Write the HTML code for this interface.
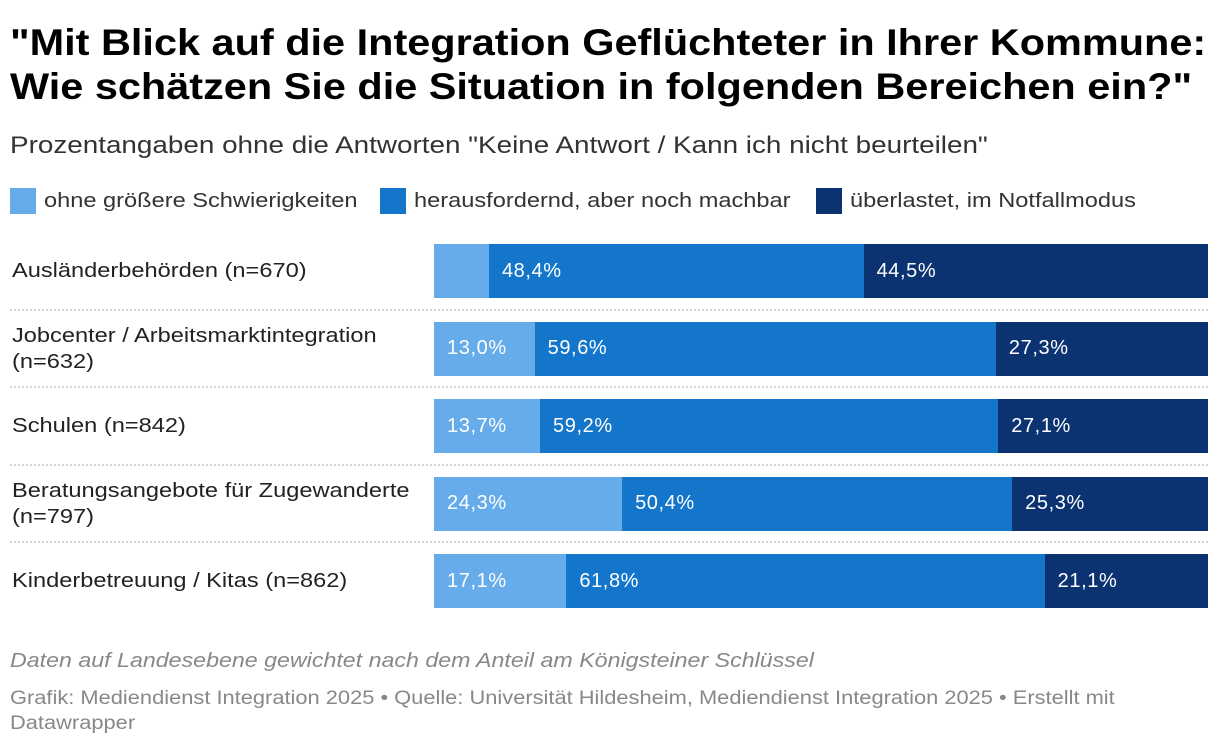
<!DOCTYPE html>
<html><head><meta charset="utf-8"><style>
body{margin:0;width:1220px;height:750px;background:#fff;font-family:"Liberation Sans",sans-serif;color:#1d1d1d;position:relative;overflow:hidden}
.abs{position:absolute}
h1{position:absolute;left:10px;top:21px;margin:0;font-size:37px;line-height:44px;font-weight:bold;color:#000;transform:scaleX(1.12);transform-origin:0 0;white-space:nowrap}
.sub{left:10px;top:132px;font-size:24px;color:#333;transform:scaleX(1.16);transform-origin:0 0;white-space:nowrap}
.leg{top:188px;font-size:20px;color:#333;display:flex;align-items:center}
.leg span{display:inline-block;transform:scaleX(1.18);transform-origin:0 50%;white-space:nowrap}
.sw{width:26px;height:26px;margin-right:8px}
.lab{left:12px;font-size:20px;line-height:26px;color:#222;transform:scaleX(1.18);transform-origin:0 0;white-space:nowrap}
.sep{left:10px;width:1198px;border-top:2px dotted #d4d4d4;height:0}
.seg{position:absolute;color:#fff;font-size:20px;display:flex;align-items:center;box-sizing:border-box;padding-left:13px;letter-spacing:0.6px}
.foot{left:10px;font-size:19px;color:#888;transform:scaleX(1.15);transform-origin:0 0;white-space:nowrap}
</style></head><body>
<h1>"Mit Blick auf die Integration Geflüchteter in Ihrer Kommune:<br>Wie schätzen Sie die Situation in folgenden Bereichen ein?"</h1>
<div class="abs sub">Prozentangaben ohne die Antworten "Keine Antwort / Kann ich nicht beurteilen"</div>
<div class="abs leg" style="left:10px"><div class="sw" style="background:#66aceb"></div><span>ohne größere Schwierigkeiten</span></div>
<div class="abs leg" style="left:380px"><div class="sw" style="background:#1476cb"></div><span>herausfordernd, aber noch machbar</span></div>
<div class="abs leg" style="left:816px"><div class="sw" style="background:#0b3372"></div><span>überlastet, im Notfallmodus</span></div>
<div id="chart"></div>
<div class="abs foot" style="top:650px;font-style:italic;font-size:20px;transform:scaleX(1.16)">Daten auf Landesebene gewichtet nach dem Anteil am Königsteiner Schlüssel</div>
<div class="abs foot" style="top:686px;line-height:25px">Grafik: Mediendienst Integration 2025 • Quelle: Universität Hildesheim, Mediendienst Integration 2025 • Erstellt mit<br>Datawrapper</div>
<script>
const categories=["Ausländerbehörden (n=670)","Jobcenter / Arbeitsmarktintegration<br>(n=632)","Schulen (n=842)","Beratungsangebote für Zugewanderte<br>(n=797)","Kinderbetreuung / Kitas (n=862)"];
const ohne=[7.1,13.0,13.7,24.3,17.1];
const heraus=[48.4,59.6,59.2,50.4,61.8];
const ueber=[44.5,27.3,27.1,25.3,21.1];
const colors=["#66aceb","#1476cb","#0b3372"];
const X0=434,W=774,Y0=244,STEP=77.6,H=54;
const x=v=>v/100*W;
const c=document.getElementById('chart');
categories.forEach((cat,i)=>{
  const y=Y0+i*STEP;
  const l=document.createElement('div');
  l.className='abs lab';l.innerHTML=cat;
  
  
  c.appendChild(l);
  const lines=cat.includes('<br>')?2:1;
  l.style.top=(y+H/2-lines*13)+'px';
  if(i>0){const s=document.createElement('div');s.className='abs sep';s.style.top=(y-13)+'px';
    
    
    c.appendChild(s);}
  let acc=0;
  [ohne[i],heraus[i],ueber[i]].forEach((v,k)=>{
    const d=document.createElement('div');d.className='seg';
    d.style.left=(X0+x(acc))+'px';d.style.top=y+'px';d.style.width=x(v)+0.5+'px';d.style.height=H+'px';d.style.background=colors[k];
    if(x(v)>70)d.textContent=v.toFixed(1).replace('.',',')+'%';
    
    
    c.appendChild(d);acc+=v;
  });
});
</script>
</body></html>
